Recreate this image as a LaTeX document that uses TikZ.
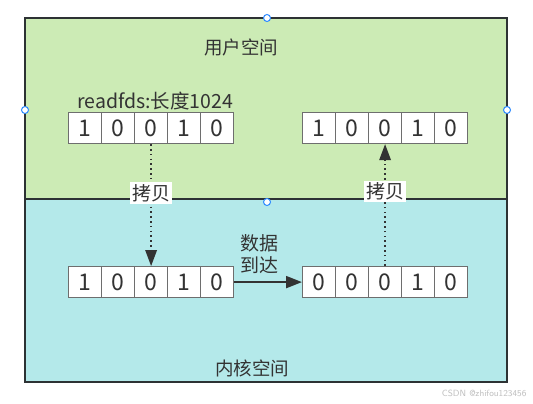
\documentclass[tikz,border=0pt]{standalone}
\usepackage{fontspec}
\setmainfont{Noto Sans CJK SC}
\usetikzlibrary{arrows.meta}
\definecolor{usergreen}{RGB}{204,235,181}
\definecolor{kerncyan}{RGB}{180,233,234}
\definecolor{edgedark}{RGB}{45,50,52}
\definecolor{cellgray}{RGB}{110,110,110}
\definecolor{txt}{RGB}{51,51,51}
\definecolor{handle}{RGB}{41,136,255}
\tikzset{
  region/.style={draw=edgedark, line width=1.8pt},
  cell/.style={draw=cellgray, fill=white, line width=1.2pt, minimum width=33pt, minimum height=31pt, inner sep=0pt, text=txt, font=\fontsize{23}{23}\selectfont},
  dotline/.style={draw=txt, line width=2pt, dash pattern=on 1.6pt off 3.2pt, -{Triangle[length=16pt,width=12pt,line width=0pt]}},
  solidline/.style={draw=txt, line width=2pt, -{Triangle[length=16pt,width=12pt]}},
  lbl/.style={text=txt, font=\fontsize{18.5}{21}\selectfont, inner sep=1pt},
  copylbl/.style={lbl, fill=white, inner sep=2pt, font=\fontsize{19}{21}\selectfont},
  hdl/.style={draw=handle, fill=white, line width=1pt, circle, minimum size=7pt, inner sep=0pt},
}
\begin{document}
\begin{tikzpicture}[x=1pt,y=-1pt]
\useasboundingbox (0,0) rectangle (533,404);
\fill[white] (0,0) rectangle (533,404);
% regions
\path[region, fill=usergreen] (25,18) rectangle (507,199);
\path[region, fill=kerncyan] (25,199) rectangle (507,382);
\node[lbl] (user) at (241,47) {用户空间};
\node[lbl] (kern) at (252,368) {内核空间};
% arrays
\foreach \n/\x/\y/\vals in {a/68/112/{1,0,0,1,0}, b/302/112/{1,0,0,1,0}, c/68/266/{1,0,0,1,0}, d/302/266/{0,0,0,1,0}}{
  \foreach \v [count=\i] in \vals {
    \node[cell, anchor=north west] (\n\i) at ({\x+(\i-1)*33},\y) {\v};
  }
}
\node[lbl, anchor=south west, font=\fontsize{19.5}{21}\selectfont] (rfd) at (76,111) {readfds:长度1024};
% connectors
\draw[dotline] (a3.south) -- node[copylbl, pos=0.4] (cp1) {拷贝} (c3.north);
\draw[dotline] (d3.north) -- node[copylbl, pos=0.61] (cp2) {拷贝} (b3.south);
\draw[solidline] (c5.east) -- (d1.west);
\node[lbl, align=center, font=\fontsize{19}{22}\selectfont] (arr) at (259,254) {数据\\到达};
% selection handles
\node[hdl] (h1) at (267,18) {};
\node[hdl] (h2) at (25,110) {};
\node[hdl] (h3) at (507,110) {};
\node[hdl] (h4) at (267,202) {};
% watermark
\node[text=black!25, font=\fontsize{9}{9}\selectfont\sffamily, anchor=east] (wm) at (530,393) {CSDN @zhifou123456};
\end{tikzpicture}
\end{document}
